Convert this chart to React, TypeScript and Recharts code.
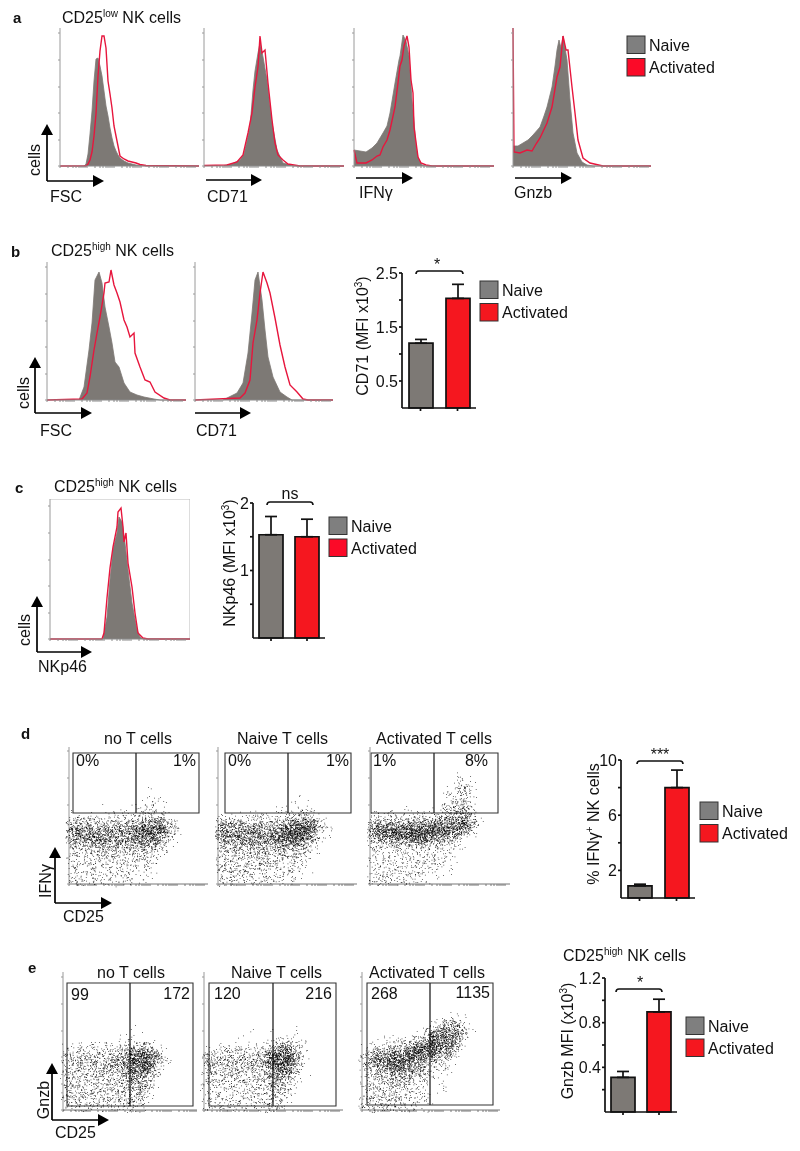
import React from 'react';
import {
  Area, Bar, BarChart, Cell, ComposedChart, ErrorBar, Line, ReferenceArea, ReferenceLine,
  Scatter, ScatterChart, XAxis, YAxis,
} from 'recharts';

const FONT = '"Liberation Sans", Arial, sans-serif';
const GRAY = '#7d7975';
const RED = '#f5171f';
const LINE_RED = '#e7163d';
const AX = 4;

const groups = ['Naive', 'Activated'];
const logTicks = [0, 8, 13, 16, 19, 21, 23, 25, 27, 35, 40, 43, 46, 48, 50, 52, 54, 62, 67, 70, 73, 75, 77, 79, 81, 89, 94, 97, 100, 102, 104, 106, 108, 116, 121, 124, 127, 129, 131, 133, 135];
const decadeTicks = [0, 26, 53, 79, 106, 133];

// Histogram traces: [channel offset, cell count height]
const aFscNaive = [[24,0],[26,2],[28,12],[30,32],[32,55],[34,85],[36,107],[38,108],[40,100],[42,90],[44,75],[46,60],[48,50],[50,38],[52,28],[54,20],[56,15],[58,11],[60,8],[64,5],[68,3],[72,2],[76,1],[80,0.5],[86,0],[139,0]];
const aFscActivated = [[0,0],[24,0],[26,0],[28,2],[30,6],[32,14],[34,30],[36,52],[38,90],[40,115],[42,130],[44,130],[46,118],[48,85],[50,72],[52,58],[54,40],[56,30],[58,20],[60,10],[64,7],[68,5],[72,4],[76,3],[80,1.5],[86,0.5],[139,0]];
const aCd71Naive = [[20,0.5],[28,2],[36,6],[40,12],[43,25],[46,39],[49,76],[51,95],[54,113],[56,123],[59,109],[63,86],[66,60],[68,43],[73,16],[79,3],[90,0],[140,0]];
const aCd71Activated = [[0,0.5],[23,1],[33,4],[39,11],[44,33],[48,53],[51,79],[54,99],[56,130],[58,113],[61,116],[64,83],[68,46],[71,23],[74,11],[79,6],[84,2],[96,0],[140,0]];
const aIfnNaive = [[0,16],[12,14],[18,18],[23,23],[29,33],[33,40],[36,53],[41,83],[45,106],[46,110],[49,131],[52,125],[55,110],[58,66],[60,45],[62,20],[64,8],[68,1],[72,0],[140,0]];
const aIfnActivated = [[0,16],[3,3],[12,3],[18,6],[23,10],[26,11],[29,19],[33,26],[36,36],[41,59],[44,83],[46,100],[48,106],[50,120],[53,130],[55,119],[57,86],[59,73],[60,39],[64,9],[67,3],[72,1],[78,0],[140,0]];
const aGnzbNaive = [[0,20],[5,20],[10,23],[15,26],[20,31],[27,39],[31,50],[34,59],[39,79],[42,100],[44,116],[46,126],[48,118],[50,130],[54,106],[57,66],[60,33],[64,13],[69,4],[74,1],[80,0],[138,0]];
const aGnzbActivated = [[0,138],[1,14],[7,13],[14,16],[19,15],[23,22],[27,28],[34,43],[39,59],[44,89],[47,99],[50,130],[53,116],[55,116],[59,79],[62,53],[65,26],[70,8],[77,3],[90,0],[138,0]];
const bFscNaive = [[32,0],[37,13],[42,50],[45,77],[48,120],[52,128],[55,117],[58,93],[62,73],[65,57],[68,38],[72,33],[77,17],[83,8],[90,5],[97,3],[107,1],[113,0],[139,0]];
const bFscActivated = [[0,0],[35,1],[40,7],[43,23],[47,50],[50,67],[53,83],[57,107],[58,117],[62,118],[64,130],[67,115],[70,107],[73,98],[77,80],[80,73],[83,63],[87,67],[88,47],[93,33],[98,20],[103,18],[108,8],[117,2],[123,0],[139,0]];
const bCd71Naive = [[28,0],[32,2],[42,7],[48,17],[53,47],[57,87],[60,120],[63,128],[67,100],[70,70],[73,43],[78,23],[85,8],[92,3],[97,0],[138,0]];
const bCd71Activated = [[0,0],[45,2],[50,7],[55,20],[58,57],[62,80],[65,107],[68,128],[72,117],[75,107],[80,82],[85,55],[90,33],[95,15],[102,8],[108,1],[113,0],[138,0]];
const cNkNaive = [[53,0],[57,22],[60,59],[63,89],[67,106],[69,122],[72,117],[75,96],[78,69],[82,36],[87,9],[90,2],[93,0],[140,0]];
const cNkActivated = [[0,0],[52,0],[54,6],[57,41],[60,71],[63,92],[67,112],[68,127],[71,131],[73,112],[74,97],[76,106],[78,76],[82,52],[85,26],[88,6],[93,1],[98,0],[140,0]];

// Bar summaries
const bCd71Means = [1.2, 2.03];
const bCd71Errors = [0.07, 0.26];
const cNkMeans = [1.53, 1.5];
const cNkErrors = [0.27, 0.26];
const dIfnMeans = [0.88, 8.0];
const dIfnErrors = [0.12, 1.27];
const eGnzbMeans = [0.31, 0.896];
const eGnzbErrors = [0.053, 0.114];

// Dot-plot event density, read per 8x6 px cell from the picture (digit = density level).
const d1Rows = ['00000000001000','00000000011100','00000000112100','00001000122110','11111222233310','44433333455541','66555555788842','77676666889741','65777665777521','44545455555310','33344344443210','32233332332100','22322222222000','22222222221000','22222222111000','33222122110000'];
const d2Rows = ['00000000000000','00000000010000','00000000111000','00000001112100','11112211233310','44433334466641','66655556889942','76767677899731','66667667888521','44555555666210','33344444443210','33333333332100','33333333222100','33332322221100','22332222221000','33222222110000'];
const d3Rows = ['00000000000100','00000000000210','00000000001320','00000000012420','00000000012320','00000000023420','00001000134520','22222222334641','44444555667852','77777788888751','78899999887520','55677887544100','23334433322100','22222222221100','22222222221000','22222222211000','22222222111000','22222221110000','33222211100000'];
const e1Rows = ['00000000000000','00000000000000','00000000100000','00000001010000','00010110222100','12222223444210','33333344778510','33443455889620','33444456889520','33344445777310','33333334665210','33333333554100','33333333453100','33333333442000','33333333431000','22222222320000'];
const e2Rows = ['00000000000000','00000000000000','00000100100100','00001000001100','00000000223210','11222222466310','33333334788520','44444445899510','44444445889410','33333333677300','33333333654210','33333333553100','22222233442100','22222222432000','22222222431000','22222222320000'];
const e3Rows = ['00000000000210','00000000024520','00000000456651','00010001677740','00112245878620','12344578987510','35667898866300','46789886543100','35788765322000','33557654211000','23445532211000','23344332111000','23333322111000','23333222100000','33333222100000','33333221000000'];
const densityDots = [0, 2, 7, 12, 19, 27, 37, 49, 63, 80];

const pts = (a: number[][]) => a.map(([x, y]) => ({ x, y }));

function Hist({ left, right, base, top, naive, activated, boxed }: any) {
  const W = right - left;
  const H = base - top;
  return (
    <div style={{ position: 'absolute', left: left - AX, top }}>
      <ComposedChart width={W + AX} height={H + AX} margin={{ top: 0, right: 0, bottom: 0, left: 0 }}>
        <XAxis type="number" dataKey="x" domain={[0, W]} ticks={logTicks.filter((t) => t <= W)} interval={0}
          height={AX} tickSize={2} tickFormatter={() => ''} stroke="#8a8a8a" />
        <YAxis type="number" domain={[0, H]} ticks={decadeTicks} interval={0} width={AX} tickSize={2}
          tickFormatter={() => ''} stroke="#9a9a9a" />
        {boxed && <ReferenceLine y={H} stroke="#bbb" />}
        {boxed && <ReferenceLine x={W} stroke="#bbb" />}
        <Area data={pts(naive)} dataKey="y" type="linear" fill={GRAY} fillOpacity={1} stroke={GRAY} strokeWidth={0.8} dot={false} activeDot={false} isAnimationActive={false} />
        <Line data={pts(activated)} dataKey="y" type="linear" stroke={LINE_RED} strokeWidth={1.4} dot={false} activeDot={false} isAnimationActive={false} />
      </ComposedChart>
    </div>
  );
}

function Bars({ axisX, right, top, bottom, max, ticks, labelled, means, errors }: any) {
  const LW = 40;
  const PAD = 12;
  const rows = groups.map((name, i) => ({ name, mean: means[i], err: [0, errors[i]] }));
  const fmt = (v: number) => (labelled.includes(v) ? String(v) : '');
  return (
    <div style={{ position: 'absolute', left: axisX - LW, top: top - PAD }}>
      <BarChart width={right - axisX + LW} height={bottom - top + 6 + PAD} data={rows} margin={{ top: PAD, right: 0, bottom: 0, left: 0 }} barSize={24}>
        <XAxis dataKey="name" height={6} tickSize={3} tickFormatter={() => ''} stroke="#111" strokeWidth={1.7} />
        <YAxis type="number" domain={[0, max]} ticks={ticks} interval={0} width={LW} tickSize={3} tickMargin={1} tickFormatter={fmt}
          stroke="#111" strokeWidth={1.7} tick={{ fontSize: 16, fill: '#111', fontFamily: FONT }} />
        <Bar dataKey="mean" stroke="#111" strokeWidth={1.7} isAnimationActive={false}>
          {rows.map((r, i) => <Cell key={r.name} fill={i === 0 ? GRAY : RED} />)}
          <ErrorBar dataKey="err" direction="y" width={6} stroke="#111" strokeWidth={1.7} isAnimationActive={false} />
        </Bar>
      </BarChart>
    </div>
  );
}

// Stipple texture for one density cell: the count comes from the digit,
// the speckle inside the cell only renders that density and carries no data.
function DotCell(props: any) {
  const { cx, cy, payload } = props;
  const n = densityDots[payload.d];
  let h = ((payload.c + 1) * 73856093) ^ ((payload.r + 1) * 19349663) ^ ((payload.p + 1) * 83492791);
  const next = () => {
    h = Math.imul(h ^ (h >>> 15), 2246822519);
    h = Math.imul(h ^ (h >>> 13), 3266489917);
    h ^= h >>> 16;
    return (h >>> 0) / 4294967296;
  };
  let path = '';
  for (let k = 0; k < n; k++) {
    const px = (cx + (next() + next() - 1) * 8).toFixed(2);
    const py = (cy + (next() + next() - 1) * 6).toFixed(2);
    path += `M${px} ${py}h.75v.75h-.75z`;
  }
  return <path d={path} fill="#000" />;
}

function DotPlot({ left, right, base, top, rows, gate }: any) {
  const W = right - left;
  const H = base - top;
  const rowCount = rows.length;
  const cells: any[] = [];
  rows.forEach((s: string, r: number) => {
    s.split('').forEach((ch, c) => {
      const d = Number(ch);
      if (d > 0) cells.push({ x: (c + 0.5) * 8, y: (rowCount - r - 0.5) * 6, d, c, r, p: left });
    });
  });
  return (
    <div style={{ position: 'absolute', left: left - AX, top }}>
      <ScatterChart width={W + AX} height={H + AX} margin={{ top: 0, right: 0, bottom: 0, left: 0 }}>
        <XAxis type="number" dataKey="x" domain={[0, W]} ticks={logTicks.filter((t) => t <= W)} interval={0}
          height={AX} tickSize={2} tickFormatter={() => ''} stroke="#777" />
        <YAxis type="number" dataKey="y" domain={[0, H]} ticks={decadeTicks.filter((t) => t <= H)} interval={0}
          width={AX} tickSize={2} tickFormatter={() => ''} stroke="#999" />
        <Scatter data={cells} shape={DotCell} isAnimationActive={false} />
        <ReferenceArea x1={gate.x1} x2={gate.x2} y1={gate.y1} y2={gate.y2} fill="none" stroke="#333" strokeWidth={1.1} fillOpacity={0} ifOverflow="visible" />
        <ReferenceLine segment={[{ x: gate.div, y: gate.y1 }, { x: gate.div, y: gate.y2 }]} stroke="#222" strokeWidth={1.3} ifOverflow="visible" />
      </ScatterChart>
    </div>
  );
}

const T = ({ x, y, size = 16, anchor = 'start', weight = 'normal', children, rot }: any) => (
  <text x={x} y={y} fontSize={size} textAnchor={anchor} fontWeight={weight} fill="#111" fontFamily={FONT}
    transform={rot ? `rotate(-90 ${x} ${y})` : undefined}>{children}</text>
);

const Sup = ({ children, next }: any) => (
  <>
    <tspan dy={-6} fontSize={10}>{children}</tspan>
    <tspan dy={6}>{next}</tspan>
  </>
);

const Arrows = ({ x, y, top, right, onlyH }: any) => (
  <g>
    {!onlyH && <line x1={x} y1={y} x2={x} y2={top + 8} stroke="#000" strokeWidth={1.7} />}
    {!onlyH && <path d={`M${x} ${top}L${x - 6} ${top + 11}L${x + 6} ${top + 11}Z`} fill="#000" />}
    <line x1={x} y1={y} x2={right - 8} y2={y} stroke="#000" strokeWidth={1.7} />
    <path d={`M${right} ${y}L${right - 11} ${y - 6}L${right - 11} ${y + 6}Z`} fill="#000" />
  </g>
);

const Legend = ({ x, y1, y2, w = 18, h = 17.5, red = RED }: any) => (
  <g>
    <rect x={x} y={y1} width={w} height={h} fill="#7f7f7f" stroke="#333" />
    <rect x={x} y={y2} width={w} height={h} fill={red} stroke="#333" />
    <T x={x + w + 4} y={y1 + 14.5}>Naive</T>
    <T x={x + w + 4} y={y2 + 14.5}>Activated</T>
  </g>
);

const Bracket = ({ x1, x2, y }: any) => (
  <path d={`M${x1} ${y + 3}Q${x1} ${y} ${x1 + 3} ${y}L${x2 - 3} ${y}Q${x2} ${y} ${x2} ${y + 3}`} fill="none" stroke="#111" strokeWidth={1.6} />
);

export default function App() {
  return (
    <div style={{ position: 'absolute', left: 0, top: 0, width: 800, height: 1151, background: '#fff', overflow: 'hidden', filter: 'blur(0.35px)' }}>
      <Hist left={60} right={199} base={166} top={28} naive={aFscNaive} activated={aFscActivated} />
      <Hist left={204} right={344} base={166} top={28} naive={aCd71Naive} activated={aCd71Activated} />
      <Hist left={354} right={494} base={166} top={28} naive={aIfnNaive} activated={aIfnActivated} />
      <Hist left={513} right={651} base={166} top={28} naive={aGnzbNaive} activated={aGnzbActivated} />

      <Hist left={47} right={186} base={400} top={262} naive={bFscNaive} activated={bFscActivated} />
      <Hist left={195} right={333} base={400} top={262} naive={bCd71Naive} activated={bCd71Activated} />
      <Bars axisX={402} right={476} top={273} bottom={408} max={2.5} ticks={[0.5, 1, 1.5, 2, 2.5]} labelled={[0.5, 1.5, 2.5]} means={bCd71Means} errors={bCd71Errors} />

      <Hist left={50} right={190} base={639} top={499} naive={cNkNaive} activated={cNkActivated} boxed />
      <Bars axisX={253} right={325} top={503} bottom={638} max={2} ticks={[0.5, 1, 1.5, 2]} labelled={[1, 2]} means={cNkMeans} errors={cNkErrors} />

      <DotPlot left={69} right={208} base={884} top={747} rows={d1Rows} gate={{ x1: 4, x2: 130, y1: 71, y2: 131, div: 67 }} />
      <DotPlot left={218} right={357} base={884} top={747} rows={d2Rows} gate={{ x1: 7, x2: 133, y1: 71, y2: 131, div: 70 }} />
      <DotPlot left={370} right={510} base={884} top={747} rows={d3Rows} gate={{ x1: 1, x2: 128, y1: 71, y2: 131, div: 64 }} />
      <Bars axisX={621} right={695} top={760} bottom={898} max={10} ticks={[2, 4, 6, 8, 10]} labelled={[2, 6, 10]} means={dIfnMeans} errors={dIfnErrors} />

      <DotPlot left={63} right={197} base={1110} top={972} rows={e1Rows} gate={{ x1: 4, x2: 130, y1: 4, y2: 127, div: 67 }} />
      <DotPlot left={204} right={343} base={1110} top={972} rows={e2Rows} gate={{ x1: 5, x2: 132, y1: 4, y2: 127, div: 69 }} />
      <DotPlot left={362} right={500} base={1110} top={972} rows={e3Rows} gate={{ x1: 5, x2: 131, y1: 5, y2: 127, div: 68 }} />
      <Bars axisX={605} right={677} top={978} bottom={1112} max={1.2} ticks={[0.2, 0.4, 0.6, 0.8, 1, 1.2]} labelled={[0.4, 0.8, 1.2]} means={eGnzbMeans} errors={eGnzbErrors} />

      <svg width={800} height={1151} style={{ position: 'absolute', left: 0, top: 0, pointerEvents: 'none' }}>
        {/* a */}
        <T x={13} y={23} size={15} weight="bold">a</T>
        <T x={62} y={23}>CD25<Sup next=" NK cells">low</Sup></T>
        <Arrows x={47} y={181} top={124} right={104} />
        <T x={40} y={160} rot anchor="middle">cells</T>
        <T x={50} y={202}>FSC</T>
        <Arrows x={206} y={180} top={124} right={262} onlyH />
        <T x={207} y={202}>CD71</T>
        <Arrows x={356} y={178} top={124} right={413} onlyH />
        <T x={359} y={198}>IFNγ</T>
        <Arrows x={515} y={178} top={124} right={572} onlyH />
        <T x={514} y={198}>Gnzb</T>
        <Legend x={627} y1={36} y2={58.5} red="#fb0a28" />

        {/* b */}
        <T x={11} y={257} size={15} weight="bold">b</T>
        <T x={51} y={256}>CD25<Sup next=" NK cells">high</Sup></T>
        <Arrows x={35} y={413} top={357} right={92} />
        <T x={29} y={393} rot anchor="middle">cells</T>
        <T x={40} y={436}>FSC</T>
        <Arrows x={195} y={413} top={357} right={251} onlyH />
        <T x={196} y={436}>CD71</T>
        <T x={368} y={336} rot anchor="middle">CD71 (MFI x10<Sup next=")">3</Sup></T>
        <Bracket x1={416} x2={463} y={271} />
        <T x={437} y={270} anchor="middle">*</T>
        <Legend x={480} y1={281} y2={303.5} />

        {/* c */}
        <T x={15} y={493} size={15} weight="bold">c</T>
        <T x={54} y={492}>CD25<Sup next=" NK cells">high</Sup></T>
        <Arrows x={37} y={652} top={596} right={92} />
        <T x={30} y={630} rot anchor="middle">cells</T>
        <T x={38} y={672}>NKp46</T>
        <T x={235} y={563} rot anchor="middle">NKp46 (MFI x10<Sup next=")">3</Sup></T>
        <Bracket x1={267} x2={313} y={502} />
        <T x={290} y={499} anchor="middle">ns</T>
        <Legend x={329} y1={517} y2={539} red="#fb0a28" />

        {/* d */}
        <T x={21} y={739} size={15} weight="bold">d</T>
        <T x={104} y={744}>no T cells</T>
        <T x={237} y={744}>Naive T cells</T>
        <T x={376} y={744}>Activated T cells</T>
        <T x={76} y={766}>0%</T>
        <T x={196} y={766} anchor="end">1%</T>
        <T x={228} y={766}>0%</T>
        <T x={349} y={766} anchor="end">1%</T>
        <T x={373} y={766}>1%</T>
        <T x={488} y={766} anchor="end">8%</T>
        <Arrows x={55} y={903} top={847} right={112} />
        <T x={51} y={881} rot anchor="middle">IFNγ</T>
        <T x={63} y={922}>CD25</T>
        <T x={599} y={824} rot anchor="middle">% IFNγ<Sup next=" NK cells">+</Sup></T>
        <Bracket x1={637} x2={683} y={761} />
        <T x={660} y={760} anchor="middle">***</T>
        <Legend x={700} y1={802} y2={824.5} />

        {/* e */}
        <T x={28} y={973} size={15} weight="bold">e</T>
        <T x={97} y={978}>no T cells</T>
        <T x={231} y={978}>Naive T cells</T>
        <T x={369} y={978}>Activated T cells</T>
        <T x={71} y={1000}>99</T>
        <T x={190} y={999} anchor="end">172</T>
        <T x={214} y={999}>120</T>
        <T x={332} y={999} anchor="end">216</T>
        <T x={371} y={999}>268</T>
        <T x={490} y={998} anchor="end">1135</T>
        <Arrows x={52} y={1120} top={1063} right={109} />
        <T x={49} y={1100} rot anchor="middle">Gnzb</T>
        <T x={55} y={1138}>CD25</T>
        <T x={563} y={961}>CD25<Sup next=" NK cells">high</Sup></T>
        <T x={573} y={1041} rot anchor="middle">Gnzb MFI (x10<Sup next=")">3</Sup></T>
        <Bracket x1={616} x2={662} y={989} />
        <T x={640} y={988} anchor="middle">*</T>
        <Legend x={686} y1={1017} y2={1039} />
      </svg>
    </div>
  );
}
